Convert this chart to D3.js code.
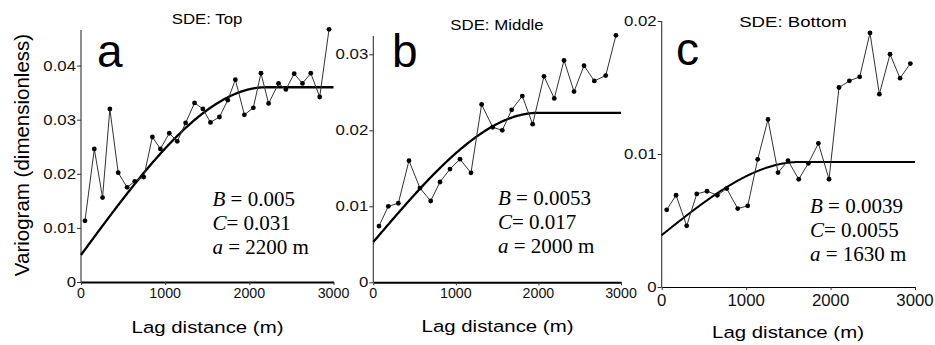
<!DOCTYPE html>
<html><head><meta charset="utf-8">
<script src="https://cdn.jsdelivr.net/npm/d3@7"></script>
<style>body{margin:0;background:#fff}svg{display:block}</style>
</head><body>
<svg id="chart" width="935" height="345"></svg>
<script>
// ---- data ----
const titles = ["SDE: Top", "SDE: Middle", "SDE: Bottom"];
const letters = ["a", "b", "c"];
const xTicks = [0, 1000, 2000, 3000];
const yTicksA = [0, 0.01, 0.02, 0.03, 0.04];
const yTicksB = [0, 0.01, 0.02, 0.03];
const yTicksC = [0, 0.01, 0.02];
const lagsA = [47,158,256,343,442,548,639,746,848,943,1049,1144,1243,1349,1448,1538,1645,1744,1834,1941,2047,2138,2229,2347,2434,2533,2631,2730,2836,2947];
const gammaA = [0.0113,0.0246,0.0156,0.0320,0.0202,0.0175,0.0186,0.0194,0.0268,0.0246,0.0275,0.0260,0.0294,0.0331,0.0320,0.0295,0.0305,0.0336,0.0374,0.0309,0.0322,0.0386,0.0330,0.0367,0.0356,0.0385,0.0367,0.0386,0.0342,0.0467];
const lagsB = [69,182,303,432,565,695,808,929,1050,1183,1312,1446,1562,1676,1805,1930,2067,2192,2310,2431,2552,2677,2815,2939];
const gammaB = [0.0074,0.0100,0.0104,0.0160,0.0124,0.0107,0.0132,0.0149,0.0162,0.0144,0.0234,0.0204,0.0200,0.0227,0.0245,0.0208,0.0271,0.0242,0.0292,0.0251,0.0285,0.0265,0.0272,0.0325];
const lagsC = [59,170,296,415,537,659,770,900,1019,1137,1259,1378,1496,1623,1737,1856,1982,2100,2223,2345,2467,2578,2704,2823,2945];
const gammaC = [0.0058,0.0069,0.0046,0.0070,0.0072,0.0069,0.0074,0.0059,0.0061,0.0096,0.0126,0.0086,0.0095,0.0081,0.0093,0.0108,0.0081,0.0150,0.0155,0.0158,0.0191,0.0145,0.0175,0.0157,0.0168];
// spherical model parameters (nugget B, partial sill C, range a)
const nuggetB = [0.005, 0.0053, 0.0039];
const sillC = [0.031, 0.017, 0.0055];
const rangeA = [2200, 2000, 1630];
const paramLabels = [["0.005","0.031","2200 m"],["0.0053","0.017","2000 m"],["0.0039","0.0055","1630 m"]];

// ---- layout ----
const panels = [
  {lags: lagsA, gam: gammaA, yTicks: yTicksA, xr:[81,333.5], yr:[282,65.6], axTop:30, title:[207,24,1.2], letter:[97,67], ann:[212.5,[206,230,254]], xlab:[207.5,333], xTickFont:15, xTickSx:0.95, xTickBase:298, xAxisW:2, curveW:2.3},
  {lags: lagsB, gam: gammaB, yTicks: yTicksB, xr:[373.3,621], yr:[282.3,54.3], axTop:36, title:[497,30,1.2], letter:[392,67], ann:[498,[205,229,253]], xlab:[497.5,332], xTickFont:15, xTickSx:0.95, xTickBase:298, xAxisW:2, curveW:2.3},
  {lags: lagsC, gam: gammaC, yTicks: yTicksC, xr:[661.7,915], yr:[287,21], axTop:21, title:[793,27,1.33], letter:[676,65], ann:[810,[213,237,261]], xlab:[788,338], xTickFont:16, xTickSx:1.05, xTickBase:306, xAxisW:1.2, curveW:2}
];

const svg = d3.select("#chart");
const SANS = "Arial, 'Liberation Sans', sans-serif";
const SERIF = "'Times New Roman', 'Liberation Serif', serif";

function stretchText(g, x, y, txt, size, sx, anchor, family) {
  return g.append("text")
    .attr("transform", `translate(${x},${y}) scale(${sx},1)`)
    .attr("text-anchor", anchor || "middle")
    .style("font-family", family || SANS)
    .style("font-size", size + "px")
    .attr("fill", "#000")
    .text(txt);
}

panels.forEach((p, i) => {
  const g = svg.append("g");
  const x = d3.scaleLinear().domain([0, 3000]).range(p.xr);
  const yMax = p.yTicks[p.yTicks.length - 1];
  const y = d3.scaleLinear().domain([0, yMax]).range(p.yr);

  // y axis
  const ya = g.append("g").attr("transform", `translate(${p.xr[0]},0)`)
    .call(d3.axisLeft(y).tickValues(p.yTicks).tickSize(4).tickPadding(1)
      .tickFormat(d => d === 0 ? "0" : d3.format(".2f")(d)));
  ya.select(".domain").remove();
  ya.selectAll(".tick line").attr("stroke", "#333").attr("stroke-width", 1);
  ya.selectAll(".tick text").remove();
  ya.append("line").attr("x1", 0).attr("x2", 0).attr("y1", p.yr[0]).attr("y2", p.axTop)
    .attr("stroke", "#333").attr("stroke-width", 1.1);
  p.yTicks.forEach(t => {
    stretchText(g, p.xr[0] - 5, y(t) + 5, t === 0 ? "0" : d3.format(".2f")(t), 14, 1.2, "end")
      .attr("fill", "#111");
  });

  // x axis
  const xa = g.append("g").attr("transform", `translate(0,${p.yr[0]})`)
    .call(d3.axisBottom(x).tickValues(xTicks).tickSize(3).tickSizeOuter(0));
  xa.select(".domain").attr("stroke", "#000").attr("stroke-width", p.xAxisW);
  xa.selectAll(".tick line").attr("stroke", "#333");
  xa.selectAll(".tick text").remove();
  xTicks.forEach(t => {
    stretchText(g, x(t), p.xTickBase, String(t), p.xTickFont, p.xTickSx, "middle").attr("fill", "#111");
  });

  // model curve (spherical)
  const B = nuggetB[i], C = sillC[i], A = rangeA[i];
  const model = h => h >= A ? B + C : B + C * (1.5 * h / A - 0.5 * Math.pow(h / A, 3));
  const hs = d3.range(0, 3001, 10);
  g.append("path").datum(hs)
    .attr("d", d3.line().x(h => x(h)).y(h => y(model(h))))
    .attr("fill", "none").attr("stroke", "#000").attr("stroke-width", p.curveW);

  // experimental variogram
  const pts = p.lags.map((l, k) => [l, p.gam[k]]);
  g.append("path").datum(pts)
    .attr("d", d3.line().x(d => x(d[0])).y(d => y(d[1])))
    .attr("fill", "none").attr("stroke", "#333").attr("stroke-width", 1);
  g.selectAll("circle.pt").data(pts).enter().append("circle")
    .attr("cx", d => x(d[0])).attr("cy", d => y(d[1])).attr("r", 2.4).attr("fill", "#000");

  // title
  stretchText(g, p.title[0], p.title[1], titles[i], 14, p.title[2], "middle");
  // letter
  g.append("text").attr("x", p.letter[0]).attr("y", p.letter[1])
    .style("font-family", SANS).style("font-size", "46px").text(letters[i]);
  // x label
  stretchText(g, p.xlab[0], p.xlab[1], "Lag distance (m)", 17, 1.2, "middle");

  // annotation
  const names = ["B", "C", "a"];
  const seps = [" = ", "= ", " = "];
  names.forEach((n, k) => {
    const t = g.append("text").attr("x", p.ann[0]).attr("y", p.ann[1][k])
      .style("font-family", SERIF).style("font-size", "21px");
    t.append("tspan").style("font-style", "italic").text(n);
    t.append("tspan").text(seps[k] + paramLabels[i][k]);
  });
});

// y-axis title
svg.append("text").attr("transform", "translate(29,155) rotate(-90)")
  .attr("text-anchor", "middle").style("font-family", SANS).style("font-size", "20.5px")
  .text("Variogram (dimensionless)");
</script>
</body></html>
